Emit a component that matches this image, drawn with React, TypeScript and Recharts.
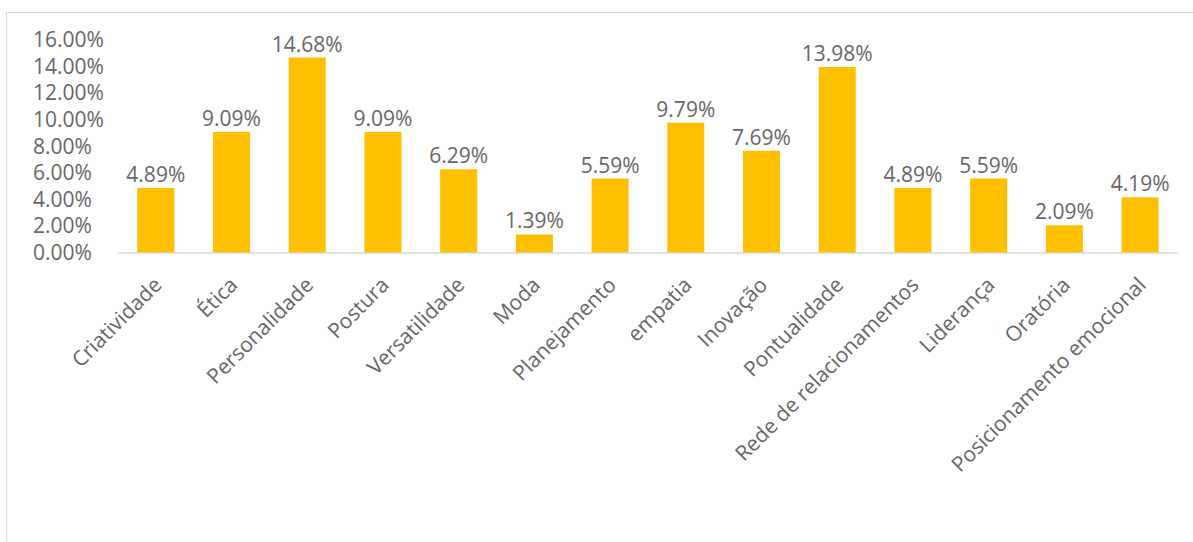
import React from 'react';
import { BarChart, Bar, XAxis, YAxis, LabelList } from 'recharts';

const categories = [
  'Criatividade',
  'Ética',
  'Personalidade',
  'Postura',
  'Versatilidade',
  'Moda',
  'Planejamento',
  'empatia',
  'Inovação',
  'Pontualidade',
  'Rede de relacionamentos',
  'Liderança',
  'Oratória',
  'Posicionamento emocional',
];

const percentages = [4.89, 9.09, 14.68, 9.09, 6.29, 1.39, 5.59, 9.79, 7.69, 13.98, 4.89, 5.59, 2.09, 4.19];

const yTicks = [0, 2, 4, 6, 8, 10, 12, 14, 16];

const chartData = categories.map((name, i) => ({ name, value: percentages[i] }));

const FONT = '"Open Sans", sans-serif';
const TEXT = '#666666';

const fmt = (v: any) => `${Number(v).toFixed(2)}%`;

const YTick = (props: any) => {
  const { y, payload } = props;
  return (
    <text x={33} y={y} dy={7} textAnchor="start" fill={TEXT} fontSize={21} fontFamily={FONT}>
      {fmt(payload.value)}
    </text>
  );
};

const XTick = (props: any) => {
  const { x, y, payload } = props;
  const ax = x + 2;
  const ay = y + 20;
  return (
    <text
      x={ax}
      y={ay}
      dy="0.35em"
      textAnchor="end"
      transform={`rotate(-45, ${ax}, ${ay})`}
      fill={TEXT}
      fontSize={21}
      fontFamily={FONT}
    >
      {payload.value}
    </text>
  );
};

const App = () => {
  return (
    <div style={{ position: 'absolute', left: 0, top: 0, width: 1193, height: 542, background: '#fff', overflow: 'hidden' }}>
      <div
        style={{
          position: 'absolute',
          left: 6,
          top: 12,
          width: 1200,
          height: 600,
          border: '1px solid #D9D9D9',
          boxSizing: 'border-box',
        }}
      />
      <div style={{ position: 'absolute', left: 0, top: 0 }}>
        <BarChart
          width={1193}
          height={542}
          data={chartData}
          margin={{ top: 40, right: 15, left: 0, bottom: 0 }}
          barCategoryGap="25.5%"
        >
          <XAxis
            dataKey="name"
            interval={0}
            tickLine={false}
            axisLine={{ stroke: '#D9D9D9', strokeWidth: 1.5 }}
            height={289}
            tick={<XTick />}
          />
          <YAxis
            width={118}
            domain={[0, 16]}
            ticks={yTicks}
            axisLine={false}
            tickLine={false}
            tick={<YTick />}
          />
          <Bar dataKey="value" fill="#FFC000" isAnimationActive={false}>
            <LabelList
              dataKey="value"
              position="top"
              offset={6}
              formatter={fmt}
              fill={TEXT}
              fontSize={21}
              fontFamily={FONT}
            />
          </Bar>
        </BarChart>
      </div>
    </div>
  );
};

export default App;
